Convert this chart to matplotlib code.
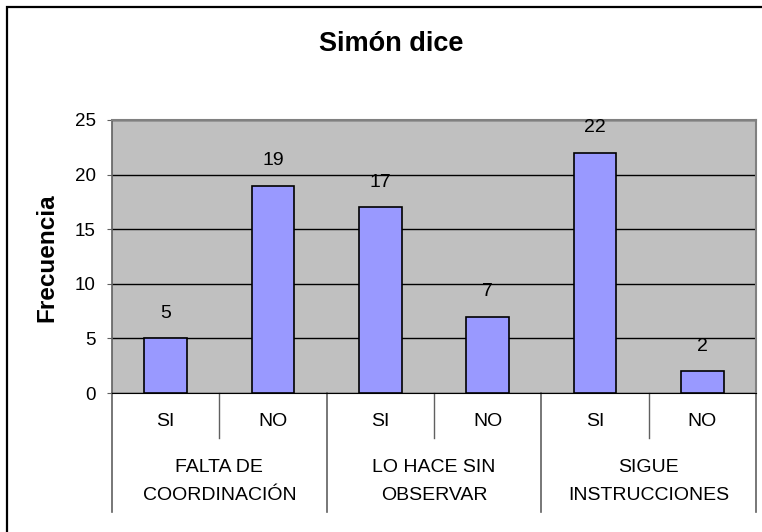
import matplotlib.pyplot as plt
from matplotlib.lines import Line2D
from matplotlib.patches import Rectangle

plt.rcParams['font.family'] = ['Liberation Sans', 'DejaVu Sans']

grupos = ["FALTA DE\nCOORDINACIÓN", "LO HACE SIN\nOBSERVAR", "SIGUE\nINSTRUCCIONES"]
respuestas = ["SI", "NO", "SI", "NO", "SI", "NO"]
frecuencia = [5, 19, 17, 7, 22, 2]

W, H = 762, 532
fig = plt.figure(figsize=(W / 100, H / 100), dpi=100)
fig.patch.set_facecolor('white')

# chart frame (only left/top edges visible in the crop)
fig.patches.append(Rectangle((6.5 / W, -0.1), 1.2, 1.1 - 7 / H, transform=fig.transFigure,
                             fill=False, edgecolor='black', lw=1.6))

left, right, top, bot = 112, 756, 120, 393
ax = fig.add_axes([left / W, 1 - bot / H, (right - left) / W, (bot - top) / H])
ax.set_facecolor('#C0C0C0')

x = list(range(len(frecuencia)))
ax.bar(x, frecuencia, width=0.4, color='#9999FF', edgecolor='black', lw=1.2, zorder=3)
for xi, v in zip(x, frecuencia):
    ax.annotate(str(v), (xi, v), xytext=(0, 18), textcoords='offset points',
                ha='center', va='center', fontsize=14)

ax.set_xlim(-0.5, 5.5)
ax.set_ylim(0, 25)
ax.set_yticks([0, 5, 10, 15, 20, 25])
ax.yaxis.grid(True, color='black', lw=1, zorder=1)
ax.tick_params(axis='y', direction='out', length=3.6, color='#606060', labelsize=13.5, pad=8)
ax.set_xticks([])
for s in ['top', 'right']:
    ax.spines[s].set_color('#808080')
    ax.spines[s].set_linewidth(1.5)
ax.spines['left'].set_color('#606060')
ax.spines['bottom'].set_color('black')
ax.spines['left'].set_linewidth(1.2)

fig.text(47 / W, 1 - 258 / H, 'Frecuencia', rotation=90, ha='center', va='center',
         fontsize=17.5, fontweight='bold')
fig.text(391 / W, 1 - 44 / H, 'Simón dice', ha='center', va='center',
         fontsize=19.5, fontweight='bold')

# multi-level category axis
tr = ax.get_xaxis_transform()
hpx = bot - top
def ay(py):
    return (bot - py) / hpx

for xi, r in zip(x, respuestas):
    ax.text(xi, ay(421), r, transform=tr, ha='center', va='center', fontsize=14)
for k, g in enumerate(grupos):
    l1, l2 = g.split("\n")
    ax.text(2 * k + 0.5, ay(467), l1, transform=tr, ha='center', va='center', fontsize=14)
    ax.text(2 * k + 0.5, ay(495.5), l2, transform=tr, ha='center', va='center', fontsize=14)
for b in [0.5, 2.5, 4.5]:
    ax.add_line(Line2D([b, b], [0, ay(438)], transform=tr, color='#606060', lw=1, clip_on=False))
for b in [-0.5, 1.5, 3.5, 5.5]:
    ax.add_line(Line2D([b, b], [0, ay(512)], transform=tr, color='#606060', lw=1.2, clip_on=False))

plt.savefig('out.png', dpi=100)
